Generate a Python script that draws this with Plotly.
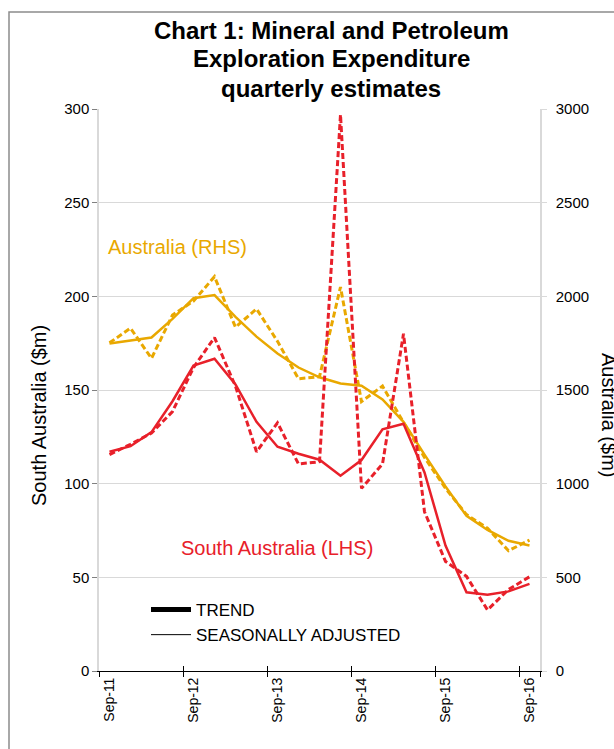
import plotly.graph_objects as go

quarters = ["Sep-11", "Dec-11", "Mar-12", "Jun-12", "Sep-12", "Dec-12", "Mar-13", "Jun-13",
            "Sep-13", "Dec-13", "Mar-14", "Jun-14", "Sep-14", "Dec-14", "Mar-15", "Jun-15",
            "Sep-15", "Dec-15", "Mar-16", "Jun-16", "Sep-16"]
tick_labels = ["Sep-11", "Sep-12", "Sep-13", "Sep-14", "Sep-15", "Sep-16"]

sa_trend = [117, 120, 127.5, 144, 163, 166.7, 153, 133, 119.7, 116, 112.8, 104.2, 112.6,
            129, 132, 106, 67, 42, 40.7, 42.5, 46.5]
sa_sa = [115.5, 121, 127, 138.5, 162, 178, 152, 117, 132.5, 110.5, 111.7, 297, 97.5,
         110.5, 180, 85, 58.5, 50.5, 32.6, 43.5, 50.3]
aus_trend = [1748, 1766, 1780, 1880, 1990, 2007, 1890, 1785, 1695, 1620, 1568, 1535, 1523,
             1450, 1330, 1155, 985, 828, 753, 695, 670]
aus_sa = [1752, 1830, 1669, 1900, 1975, 2105, 1835, 1933, 1760, 1560, 1571, 2050, 1438,
          1521, 1327, 1140, 975, 835, 762, 642, 699]

RED = "#E8202A"
ORANGE = "#E9A800"
GRID = "#D9D9D9"
FONT = "Liberation Sans, Arial, sans-serif"

W, H = 614, 749
L, R, T, B = 99, 540, 109, 671
PW, PH = R - L, B - T


def px(x):
    return (x - L) / PW


def py(y):
    return (B - y) / PH


fig = go.Figure()

fig.add_trace(go.Scatter(x=quarters, y=aus_sa, mode="lines", yaxis="y", showlegend=False,
                         line=dict(color=ORANGE, width=3, dash="6px,3px")))
fig.add_trace(go.Scatter(x=quarters, y=aus_trend, mode="lines", yaxis="y", showlegend=False,
                         line=dict(color=ORANGE, width=2.5)))
fig.add_trace(go.Scatter(x=quarters, y=sa_sa, mode="lines", yaxis="y2", showlegend=False,
                         line=dict(color=RED, width=3, dash="6px,3px")))
fig.add_trace(go.Scatter(x=quarters, y=sa_trend, mode="lines", yaxis="y2", showlegend=False,
                         line=dict(color=RED, width=2.5)))
fig.add_trace(go.Scatter(x=[None], y=[None], mode="lines", name="TREND",
                         line=dict(color="black", width=5)))
fig.add_trace(go.Scatter(x=[None], y=[None], mode="lines", name="SEASONALLY ADJUSTED",
                         line=dict(color="black", width=1)))
fig.add_trace(go.Scatter(x=quarters, y=[None] * len(quarters), xaxis="x2", yaxis="y",
                         mode="lines", showlegend=False, hoverinfo="skip"))

fig.update_layout(
    width=W, height=H,
    margin=dict(l=L, r=W - R, t=T, b=H - B),
    paper_bgcolor="white", plot_bgcolor="white",
    font=dict(family=FONT, color="black", size=15),
    xaxis=dict(type="category", categoryorder="array", categoryarray=quarters,
               range=[-0.5, len(quarters) - 0.5],
               tickmode="array", tickvals=tick_labels, ticktext=tick_labels,
               tickson="boundaries", ticks="outside", ticklen=5, tickcolor="black",
               tickangle=-90, tickfont=dict(size=14),
               showgrid=False, showline=True, linecolor="black", linewidth=1,
               zeroline=False),
    xaxis2=dict(type="category", categoryorder="array", categoryarray=quarters,
                overlaying="x", anchor="y", matches="x",
                tickmode="array", tickvals=tick_labels, ticktext=["" for _ in tick_labels],
                tickson="boundaries", ticks="inside", ticklen=5, tickcolor="black",
                showgrid=False, showline=False, zeroline=False, showticklabels=False),
    yaxis=dict(range=[0, 3000], dtick=500, side="right", showgrid=True, gridcolor=GRID,
               gridwidth=1, zeroline=False, showline=True, linecolor=GRID, linewidth=1.5,
               ticks="outside", ticklen=5, tickcolor=GRID, tickfont=dict(size=15),
               ticklabelstandoff=6),
    yaxis2=dict(range=[0, 300], dtick=50, side="left", overlaying="y", showgrid=False,
                zeroline=False, showline=True, linecolor=GRID, linewidth=1.5,
                ticks="outside", ticklen=5, tickcolor="#808080", tickfont=dict(size=15)),
    legend=dict(x=px(146), y=py(592), xanchor="left", yanchor="top",
                bgcolor="rgba(0,0,0,0)", font=dict(size=17, family=FONT),
                tracegroupgap=0, itemwidth=40),
    showlegend=True,
)

title_lines = ["Chart 1: Mineral and Petroleum", "Exploration Expenditure", "quarterly estimates"]
title_y = [30, 59, 88]
annotations = []
for t, yy in zip(title_lines, title_y):
    annotations.append(dict(text="<b>" + t + "</b>", x=px(331), y=py(yy), xref="paper",
                            yref="paper", xanchor="center", yanchor="middle", showarrow=False,
                            font=dict(size=24, family=FONT, color="black")))
annotations += [
    dict(text="South Australia ($m)", x=px(39), y=py(415), xref="paper", yref="paper",
         xanchor="center", yanchor="middle",
         textangle=-90, showarrow=False, font=dict(size=20, family=FONT, color="black")),
    dict(text="Australia ($m)", x=px(609), y=py(415), xref="paper", yref="paper",
         xanchor="center", yanchor="middle",
         textangle=90, showarrow=False, font=dict(size=20, family=FONT, color="black")),
    dict(text="Australia (RHS)", x=px(106), y=py(247), xref="paper", yref="paper",
         xanchor="left", yanchor="middle", showarrow=False,
         font=dict(size=20, family=FONT, color=ORANGE)),
    dict(text="South Australia (LHS)", x=px(179), y=py(548), xref="paper", yref="paper",
         xanchor="left", yanchor="middle", showarrow=False,
         font=dict(size=20, family=FONT, color=RED)),
]
fig.update_layout(annotations=annotations)

fig.add_shape(type="rect", xref="paper", yref="paper",
              x0=px(9), x1=px(660), y0=py(800), y1=py(12),
              line=dict(color="#8C8C8C", width=1.5), fillcolor="rgba(0,0,0,0)", layer="below")

fig.write_html("out.html", config={"displayModeBar": False},
               post_script="document.body.style.margin='0';document.body.style.overflow='hidden';")
